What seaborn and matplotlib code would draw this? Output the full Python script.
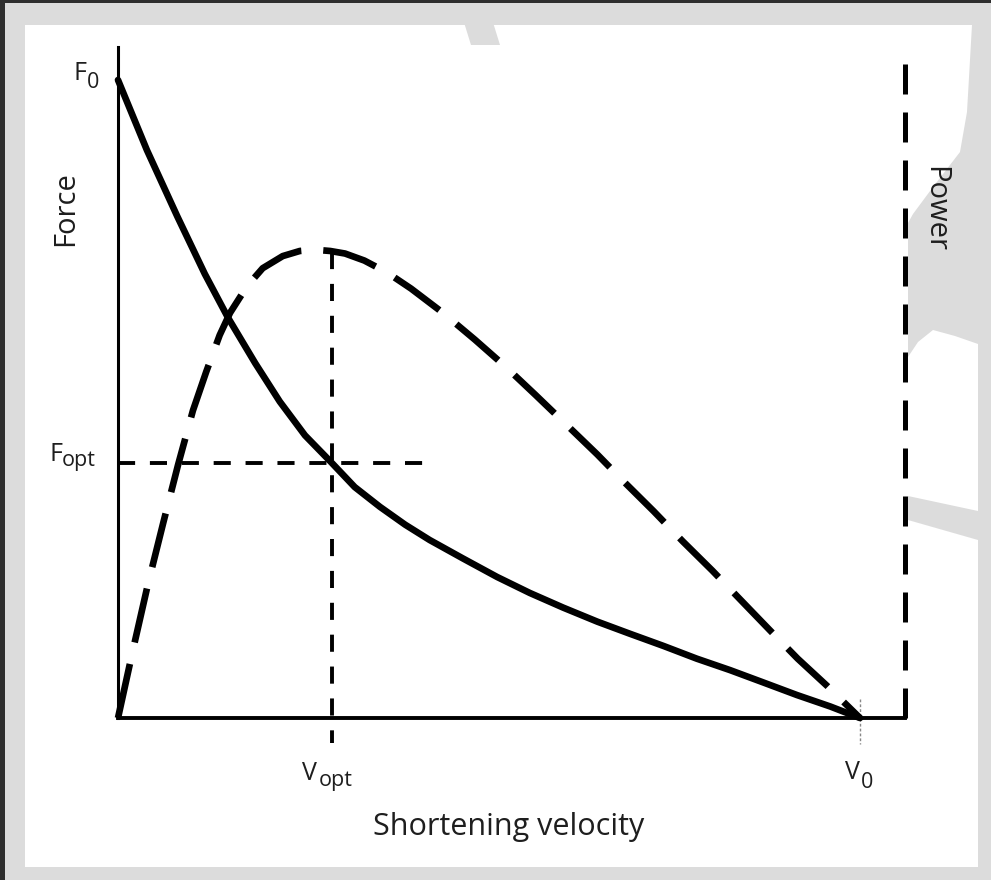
import numpy as np
import pandas as pd
import seaborn as sns
import matplotlib
matplotlib.use("Agg")
import matplotlib.pyplot as plt
from matplotlib.patches import Polygon, Rectangle

# Force-velocity relation (normalised: V0 = 1, F0 = 1)
force_v = [0.0, 0.039, 0.080, 0.117, 0.148, 0.185, 0.218, 0.252, 0.288,
           0.319, 0.353, 0.387, 0.420, 0.465, 0.511, 0.555, 0.600, 0.646,
           0.690, 0.735, 0.780, 0.825, 0.869, 0.915, 0.960, 1.0]
force_f = [1.0, 0.890, 0.786, 0.696, 0.628, 0.556, 0.496, 0.443, 0.400,
           0.362, 0.331, 0.303, 0.279, 0.250, 0.221, 0.196, 0.173, 0.151,
           0.132, 0.113, 0.093, 0.075, 0.056, 0.036, 0.018, 0.0]

# Power-velocity relation (same velocity scale)
power_v = [0.0, 0.020, 0.040, 0.061, 0.081, 0.101, 0.119, 0.137, 0.151,
           0.174, 0.195, 0.222, 0.245, 0.265, 0.286, 0.306, 0.332, 0.363,
           0.395, 0.438, 0.481, 0.522, 0.563, 0.605, 0.646, 0.683, 0.722,
           0.761, 0.801, 0.840, 0.879, 0.916, 0.956, 1.0]
power_p = [0.0, 0.106, 0.208, 0.306, 0.397, 0.482, 0.543, 0.600, 0.635,
           0.677, 0.705, 0.724, 0.732, 0.734, 0.732, 0.728, 0.717, 0.698,
           0.673, 0.635, 0.593, 0.551, 0.506, 0.459, 0.413, 0.369, 0.324,
           0.277, 0.231, 0.184, 0.137, 0.093, 0.050, 0.0]

# Optimum point and end of the Fopt guide
v_opt, f_opt, p_at_vopt = 0.288, 0.400, 0.731
f_guide_end = 0.414
v_max, f_max = 1.0, 1.0

x_title = "Shortening velocity"
y_left_title = "Force"
y_right_title = "Power"

sns.set_theme(style="white")
plt.rcParams["font.family"] = ["Open Sans", "DejaVu Sans"]

W, H = 991, 880
fig = plt.figure(figsize=(W / 100, H / 100), dpi=100)
fig.patch.set_facecolor("#dcdcdc")


def fx(px):
    return px / W


def fy(py):
    return 1 - py / H


# page frame: dark border on the left and top, white sheet inside
fig.add_artist(Rectangle((0, 0), fx(5), 1, transform=fig.transFigure,
                         facecolor="#2e2e2e", edgecolor="none", zorder=0))
fig.add_artist(Rectangle((0, fy(3)), 1, 1, transform=fig.transFigure,
                         facecolor="#2e2e2e", edgecolor="none", zorder=0))
fig.add_artist(Rectangle((fx(25), fy(867)), fx(978 - 25), (867 - 25) / H,
                         transform=fig.transFigure, facecolor="white",
                         edgecolor="none", zorder=0))

# faint background swooshes
shade = "#dcdcdc"
swooshes = [
    [(458, 3), (487, 3), (500, 45), (471, 45)],
    [(972, 25), (978, 25), (978, 344), (955, 336), (933, 330), (918, 342),
     (908, 357), (908, 223), (913, 214), (933, 187), (960, 152), (967, 112)],
    [(908, 496), (978, 511), (978, 540), (908, 520)],
]
for pts in swooshes:
    fig.add_artist(Polygon([(fx(a), fy(b)) for a, b in pts], closed=True,
                           transform=fig.transFigure, facecolor=shade,
                           edgecolor="none", zorder=0.5))

ax = fig.add_axes([fx(118), fy(718), fx(905 - 118), (718 - 47) / H])
ax.patch.set_alpha(0)
x_hi = (905 - 118) / 742
y_hi = (718 - 47) / 638
ax.set_xlim(0, x_hi)
ax.set_ylim(0, y_hi)

df_force = pd.DataFrame({"v": force_v, "f": force_f})
df_power = pd.DataFrame({"v": power_v, "p": power_p})

sns.lineplot(data=df_force, x="v", y="f", ax=ax, color="black", lw=4.8,
             solid_capstyle="round", solid_joinstyle="round",
             clip_on=False, zorder=4)
sns.lineplot(data=df_power, x="v", y="p", ax=ax, color="black", lw=4.8,
             clip_on=False, zorder=3)
ax.lines[-1].set_dashes((8.3, 3.3))
ax.lines[-1].set_dash_capstyle("butt")
ax.lines[-1].set_dash_joinstyle("round")

# guides at the optimum
guide = dict(color="black", lw=2.8, dashes=(4.4, 3.8), zorder=2)
ax.plot([0, f_guide_end], [f_opt, f_opt], **guide)
ax.plot([v_opt, v_opt], [p_at_vopt, -0.039], clip_on=False, **guide)
ax.plot([v_max, v_max], [0.03, -0.04], color="#888888", lw=1.0,
        linestyle=(0, (2, 1.5)), clip_on=False, zorder=2)

# right-hand power axis
ax.plot([x_hi, x_hi], [0, y_hi], color="black", lw=3.6, dashes=(6.0, 3.6),
        clip_on=False, zorder=2)

for side in ["top", "right"]:
    ax.spines[side].set_visible(False)
ax.spines["left"].set_linewidth(2.2)
ax.spines["bottom"].set_linewidth(2.8)
ax.spines["left"].set_color("black")
ax.spines["bottom"].set_color("black")
ax.set_xticks([])
ax.set_yticks([])
ax.set_xlabel("")
ax.set_ylabel("")

ink = "#1e1e1e"


def symbol(xy, main, sub, main_off, sub_off):
    """Letter with a subscript, placed relative to a point on the axes."""
    ax.annotate(main, xy=xy, xytext=main_off, textcoords="offset pixels",
                ha="left", va="baseline", fontsize=18, color=ink,
                annotation_clip=False)
    ax.annotate(sub, xy=xy, xytext=sub_off, textcoords="offset pixels",
                ha="left", va="baseline", fontsize=15.5, color=ink,
                annotation_clip=False)


symbol((0, f_max), "F", "0", (-45, 0), (-31, -8))
symbol((0, f_opt), "F", "opt", (-68, 2), (-56, -3))
symbol((v_opt, 0), "V", "opt", (-30, -62), (-13, -68))
symbol((v_max, 0), "V", "0", (-15, -61), (1, -70))

fig.text(fx(509), fy(835), x_title, ha="center", va="baseline",
         color=ink, fontsize=22)
fig.text(fx(73), fy(209), y_left_title, ha="center", va="baseline",
         rotation=90, rotation_mode="anchor", color=ink, fontsize=21)
fig.text(fx(927), fy(209), y_right_title, ha="center", va="baseline",
         rotation=270, rotation_mode="anchor", color=ink, fontsize=21)

fig.savefig("out.png", dpi=100, facecolor=fig.get_facecolor())
